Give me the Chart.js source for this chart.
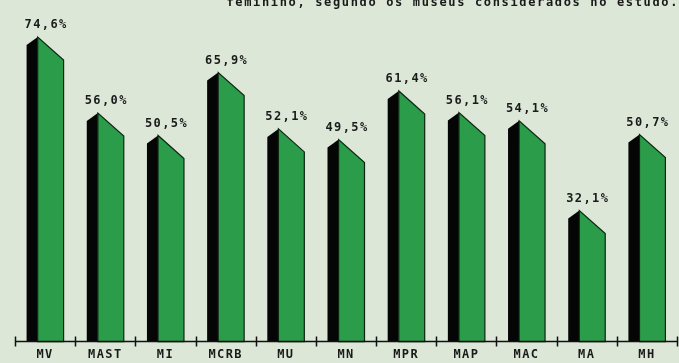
<!DOCTYPE html>
<html>
<head>
<meta charset="utf-8">
<script src="https://cdn.jsdelivr.net/npm/chart.js"></script>
<style>
  html, body { margin: 0; padding: 0; background: #dce7d8; overflow: hidden; }
  #wrap { position: relative; width: 679px; height: 363px; }
</style>
</head>
<body>
<div id="wrap"><canvas id="chart" width="679" height="363"></canvas></div>
<script>
// museums and share of female visitors (%)
const museus = ["MV", "MAST", "MI", "MCRB", "MU", "MN", "MPR", "MAP", "MAC", "MA", "MH"];
const percentuais = [74.6, 56.0, 50.5, 65.9, 52.1, 49.5, 61.4, 56.1, 54.1, 32.1, 50.7];
const titulo = "feminino, segundo os museus considerados no estudo.";

const fonte = "bold 12px 'DejaVu Sans Mono', monospace";

// draws each bar as a little prism: black side face plus green front with a sloped top
const barras3d = {
  id: "barras3d",
  afterDatasetsDraw(chart) {
    const ctx = chart.ctx;
    const meta = chart.getDatasetMeta(0);
    ctx.save();
    meta.data.forEach((bar, i) => {
      const w = bar.width;
      const left = bar.x - w / 2;
      const right = bar.x + w / 2;
      const split = left + w * 0.3;
      const top = bar.y;
      const base = bar.base;

      // side face
      ctx.beginPath();
      ctx.moveTo(left, base);
      ctx.lineTo(left, top + 8);
      ctx.lineTo(split, top);
      ctx.lineTo(split, base);
      ctx.closePath();
      ctx.fillStyle = "#050505";
      ctx.fill();

      // front face
      ctx.beginPath();
      ctx.moveTo(split, base);
      ctx.lineTo(split, top);
      ctx.lineTo(right, top + 23);
      ctx.lineTo(right, base);
      ctx.closePath();
      ctx.fillStyle = "#2b9c49";
      ctx.fill();
      ctx.lineWidth = 1.2;
      ctx.strokeStyle = "#0d2612";
      ctx.stroke();

      // value label
      ctx.font = fonte;
      ctx.letterSpacing = "1.4px";
      ctx.fillStyle = "#1a1a1a";
      ctx.textAlign = "center";
      ctx.textBaseline = "middle";
      const txt = percentuais[i].toFixed(1).replace(".", ",") + "%";
      ctx.fillText(txt, bar.x + 1, top - 12);
    });
    ctx.restore();
  }
};

// baseline with tick marks crossing it at category boundaries, and the cut-off caption
const eixo = {
  id: "eixo",
  beforeDraw(chart) {
    chart.ctx.letterSpacing = "1.4px";
  },
  afterDraw(chart) {
    const ctx = chart.ctx;
    const area = chart.chartArea;
    const n = museus.length;
    const step = (area.right - area.left) / n;
    ctx.save();
    ctx.strokeStyle = "#111";
    ctx.lineWidth = 1.5;
    ctx.beginPath();
    ctx.moveTo(area.left, area.bottom);
    ctx.lineTo(area.right, area.bottom);
    for (let i = 0; i <= n; i++) {
      const x = Math.round(area.left + i * step) + 0.5;
      ctx.moveTo(x, area.bottom - 5);
      ctx.lineTo(x, area.bottom + 5);
    }
    ctx.stroke();

    ctx.font = fonte;
    ctx.letterSpacing = "1.65px";
    ctx.fillStyle = "#1a1a1a";
    ctx.textAlign = "right";
    ctx.textBaseline = "alphabetic";
    ctx.fillText(titulo, 679, 6);
    ctx.restore();
  }
};

new Chart("chart", {
  type: "bar",
  data: {
    labels: museus,
    datasets: [{
      data: percentuais,
      backgroundColor: "rgba(0,0,0,0)",
      borderWidth: 0,
      categoryPercentage: 1,
      barPercentage: 0.615
    }]
  },
  options: {
    responsive: false,
    animation: false,
    layout: { padding: { left: 15, right: 2, top: 15, bottom: -5 } },
    plugins: {
      legend: { display: false },
      tooltip: { enabled: false },
      title: { display: false }
    },
    scales: {
      x: {
        grid: { display: false, drawTicks: false, tickLength: 0 },
        border: { display: false },
        ticks: {
          color: "#1a1a1a",
          font: { family: "'DejaVu Sans Mono', monospace", size: 12, weight: "bold" },
          padding: 6,
          maxRotation: 0
        }
      },
      y: {
        display: false,
        min: 0,
        max: 80
      }
    }
  },
  plugins: [barras3d, eixo]
});
</script>
</body>
</html>
